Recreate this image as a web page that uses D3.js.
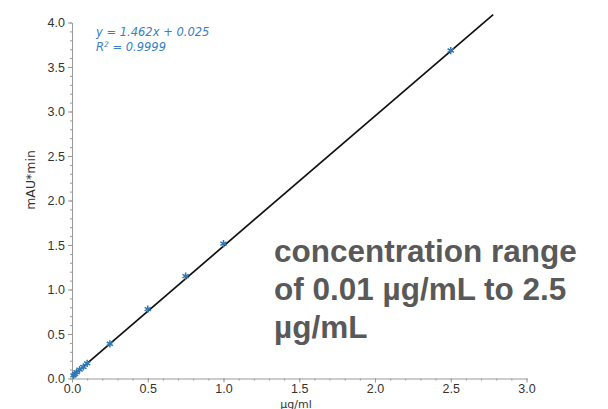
<!DOCTYPE html>
<html>
<head>
<meta charset="utf-8">
<script src="https://cdn.jsdelivr.net/npm/d3@7"></script>
<style>
  body { margin: 0; background: #fff; }
  svg { display: block; font-family: "DejaVu Sans", sans-serif; }
</style>
</head>
<body>
<div id="chart"></div>
<script>
const concentrations = [0.01, 0.02, 0.03, 0.05, 0.075, 0.1, 0.25, 0.5, 0.75, 1.0, 2.5];
const areas = [0.035, 0.05, 0.07, 0.1, 0.13, 0.17, 0.39, 0.78, 1.15, 1.515, 3.685];
const xTicks = [0, 0.5, 1, 1.5, 2, 2.5, 3];
const yTicks = [0, 0.5, 1, 1.5, 2, 2.5, 3, 3.5, 4];
const fitSlope = 1.462;
const fitIntercept = 0.025;
const fitRange = [0, 2.78];
const equationLines = ['y = 1.462x + 0.025', 'R2 = 0.9999'];
const noteLines = ['concentration range', 'of 0.01 µg/mL to 2.5', 'µg/mL'];

const WIDTH = 608;
const HEIGHT = 409;

const svg = d3.select('#chart').append('svg')
  .attr('width', WIDTH)
  .attr('height', HEIGHT);

const x = d3.scaleLinear().domain([0, 3]).range([72, 526.5]);
const y = d3.scaleLinear().domain([0, 4]).range([378.5, 22.5]);

const axisColor = '#999';
const labelColor = '#333';

// minor ticks
svg.append('g')
  .attr('transform', `translate(0, ${y(0)})`)
  .call(d3.axisBottom(x).tickValues(d3.range(0, 3.001, 0.1)).tickSize(2).tickFormat(''))
  .call((g) => g.select('.domain').remove())
  .call((g) => g.selectAll('line').attr('stroke', axisColor));
svg.append('g')
  .attr('transform', `translate(${x(0)}, 0)`)
  .call(d3.axisLeft(y).tickValues(d3.range(0, 4.001, 0.1)).tickSize(2).tickFormat(''))
  .call((g) => g.select('.domain').remove())
  .call((g) => g.selectAll('line').attr('stroke', axisColor));

// main axes
const xAxis = svg.append('g')
  .attr('transform', `translate(0, ${y(0)})`)
  .call(d3.axisBottom(x).tickValues(xTicks).tickSize(4).tickSizeOuter(0).tickFormat(d3.format('.1f')));
const yAxis = svg.append('g')
  .attr('transform', `translate(${x(0)}, 0)`)
  .call(d3.axisLeft(y).tickValues(yTicks).tickSize(4).tickSizeOuter(0).tickFormat(d3.format('.1f')));

[xAxis, yAxis].forEach((g) => {
  g.select('.domain').attr('stroke', axisColor);
  g.selectAll('line').attr('stroke', axisColor);
  g.selectAll('text').attr('fill', labelColor).style('font-size', '12.5px');
});
xAxis.selectAll('text').attr('y', 6);

// axis titles
svg.append('text')
  .attr('x', 296).attr('y', 407.5)
  .attr('text-anchor', 'middle')
  .attr('fill', labelColor)
  .style('font-size', '11px')
  .text('µg/ml');
svg.append('text')
  .attr('transform', `translate(35, 180) rotate(-90)`)
  .attr('text-anchor', 'middle')
  .attr('fill', labelColor)
  .style('font-size', '12.5px')
  .text('mAU*min');

// regression line
svg.append('line')
  .attr('x1', x(fitRange[0])).attr('y1', y(fitSlope * fitRange[0] + fitIntercept))
  .attr('x2', x(fitRange[1])).attr('y2', y(fitSlope * fitRange[1] + fitIntercept))
  .attr('stroke', '#111')
  .attr('stroke-width', 1.7);

// data points
const marker = d3.symbol().type(d3.symbolAsterisk).size(36);
svg.selectAll('path.point')
  .data(concentrations)
  .join('path')
  .attr('class', 'point')
  .attr('d', marker)
  .attr('transform', (d, i) => `translate(${x(d)}, ${y(areas[i])})`)
  .attr('fill', 'none')
  .attr('stroke', '#2f78b4')
  .attr('stroke-width', 1.5);

// equation
const eq = svg.append('g')
  .attr('fill', '#3a7fbf')
  .style('font-size', '11.5px')
  .style('font-style', 'oblique');
eq.append('text').attr('x', 96).attr('y', 36).text(equationLines[0]);
const r2 = eq.append('text').attr('x', 96).attr('y', 51);
r2.append('tspan').text('R');
r2.append('tspan').attr('dy', -4).style('font-size', '7.5px').text('2');
r2.append('tspan').attr('dy', 4).text(equationLines[1].slice(2));

// annotation
svg.append('g')
  .selectAll('text')
  .data(noteLines)
  .join('text')
  .attr('x', 274)
  .attr('y', (d, i) => 262 + i * 38)
  .attr('fill', '#595959')
  .style('font-family', 'Arial, "Liberation Sans", sans-serif')
  .style('font-size', '31.5px')
  .style('font-weight', 'bold')
  .text((d) => d);
</script>
</body>
</html>
